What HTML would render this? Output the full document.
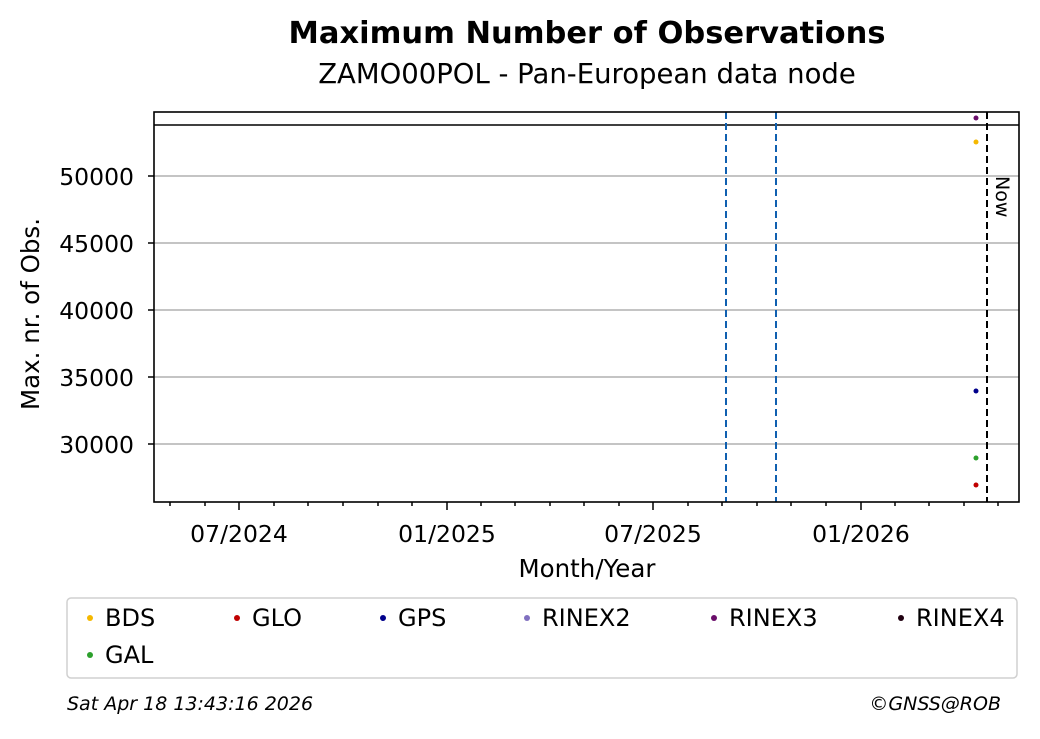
<!DOCTYPE html>
<html><head><style>body{margin:0;background:#fff}</style></head><body>
<svg width="1040" height="734" xmlns="http://www.w3.org/2000/svg" font-family="DejaVu Sans, Liberation Sans, sans-serif">
<text x="587" y="43" text-anchor="middle" font-size="30.5" font-weight="bold">Maximum Number of Observations</text>
<text x="587" y="83" text-anchor="middle" font-size="27.5">ZAMO00POL - Pan-European data node</text>
<g stroke="#b0b0b0" stroke-width="1.6">
<line x1="154" x2="1019" y1="176" y2="176"/><line x1="154" x2="1019" y1="243" y2="243"/>
<line x1="154" x2="1019" y1="310" y2="310"/><line x1="154" x2="1019" y1="377" y2="377"/>
<line x1="154" x2="1019" y1="444" y2="444"/></g>
<line x1="154" x2="1019" y1="125" y2="125" stroke="#000" stroke-width="1.6"/>
<g stroke="#1060b0" stroke-width="2" stroke-dasharray="7,4"><line x1="726" x2="726" y1="112" y2="502"/><line x1="776" x2="776" y1="112" y2="502"/></g>
<line x1="987" x2="987" y1="112" y2="502" stroke="#000" stroke-width="2" stroke-dasharray="7,4"/>
<text transform="translate(996,176) rotate(90)" font-size="19">Now</text>
<circle cx="976" cy="118" r="2.5" fill="#6a0d6a"/><circle cx="976" cy="142" r="2.5" fill="#f5b800"/>
<circle cx="976" cy="391" r="2.5" fill="#00008b"/><circle cx="976" cy="458" r="2.5" fill="#2ca02c"/>
<circle cx="976" cy="485" r="2.5" fill="#c00000"/>
<rect x="154" y="112" width="865" height="390" fill="none" stroke="#000" stroke-width="1.6"/>
<g stroke="#000" stroke-width="1.5">
<line x1="154" x2="148" y1="176" y2="176"/><line x1="154" x2="148" y1="243" y2="243"/><line x1="154" x2="148" y1="310" y2="310"/><line x1="154" x2="148" y1="377" y2="377"/><line x1="154" x2="148" y1="444" y2="444"/>
<line x1="239" x2="239" y1="502" y2="510"/><line x1="447" x2="447" y1="502" y2="510"/><line x1="653" x2="653" y1="502" y2="510"/><line x1="861" x2="861" y1="502" y2="510"/>
<line x1="170" x2="170" y1="502" y2="506"/><line x1="205" x2="205" y1="502" y2="506"/><line x1="274" x2="274" y1="502" y2="506"/><line x1="308" x2="308" y1="502" y2="506"/><line x1="343" x2="343" y1="502" y2="506"/><line x1="378" x2="378" y1="502" y2="506"/><line x1="412" x2="412" y1="502" y2="506"/><line x1="481" x2="481" y1="502" y2="506"/><line x1="515" x2="515" y1="502" y2="506"/><line x1="550" x2="550" y1="502" y2="506"/><line x1="584" x2="584" y1="502" y2="506"/><line x1="619" x2="619" y1="502" y2="506"/><line x1="688" x2="688" y1="502" y2="506"/><line x1="722" x2="722" y1="502" y2="506"/><line x1="757" x2="757" y1="502" y2="506"/><line x1="791" x2="791" y1="502" y2="506"/><line x1="826" x2="826" y1="502" y2="506"/><line x1="895" x2="895" y1="502" y2="506"/><line x1="929" x2="929" y1="502" y2="506"/><line x1="964" x2="964" y1="502" y2="506"/><line x1="998" x2="998" y1="502" y2="506"/>
</g>
<g font-size="23.5" text-anchor="end"><text x="134" y="185">50000</text><text x="134" y="252">45000</text><text x="134" y="319">40000</text><text x="134" y="386">35000</text><text x="134" y="453">30000</text></g>
<g font-size="23.5" text-anchor="middle"><text x="239" y="542">07/2024</text><text x="447" y="542">01/2025</text><text x="653" y="542">07/2025</text><text x="861" y="542">01/2026</text>
<text x="587" y="577" font-size="24.5">Month/Year</text></g>
<text transform="translate(39,314) rotate(-90)" font-size="24.5" text-anchor="middle">Max. nr. of Obs.</text>
<rect x="67" y="598" width="950" height="80" rx="4" fill="#fff" stroke="#d0d0d0" stroke-width="1.5"/>
<g font-size="24">
<circle cx="90" cy="618" r="3" fill="#f5b800"/><text x="105" y="626">BDS</text>
<circle cx="237" cy="618" r="3" fill="#c00000"/><text x="252" y="626">GLO</text>
<circle cx="383" cy="618" r="3" fill="#00008b"/><text x="398" y="626">GPS</text>
<circle cx="527" cy="618" r="3" fill="#8070c0"/><text x="542" y="626">RINEX2</text>
<circle cx="714" cy="618" r="3" fill="#6a0d6a"/><text x="729" y="626">RINEX3</text>
<circle cx="901" cy="618" r="3" fill="#200010"/><text x="916" y="626">RINEX4</text>
<circle cx="90" cy="655" r="3" fill="#2ca02c"/><text x="105" y="663">GAL</text>
</g>
<text x="67" y="710" font-size="19" font-style="italic">Sat Apr 18 13:43:16 2026</text>
<text x="1001" y="710" font-size="19" font-style="italic" text-anchor="end">©GNSS@ROB</text>
</svg>
</body></html>
